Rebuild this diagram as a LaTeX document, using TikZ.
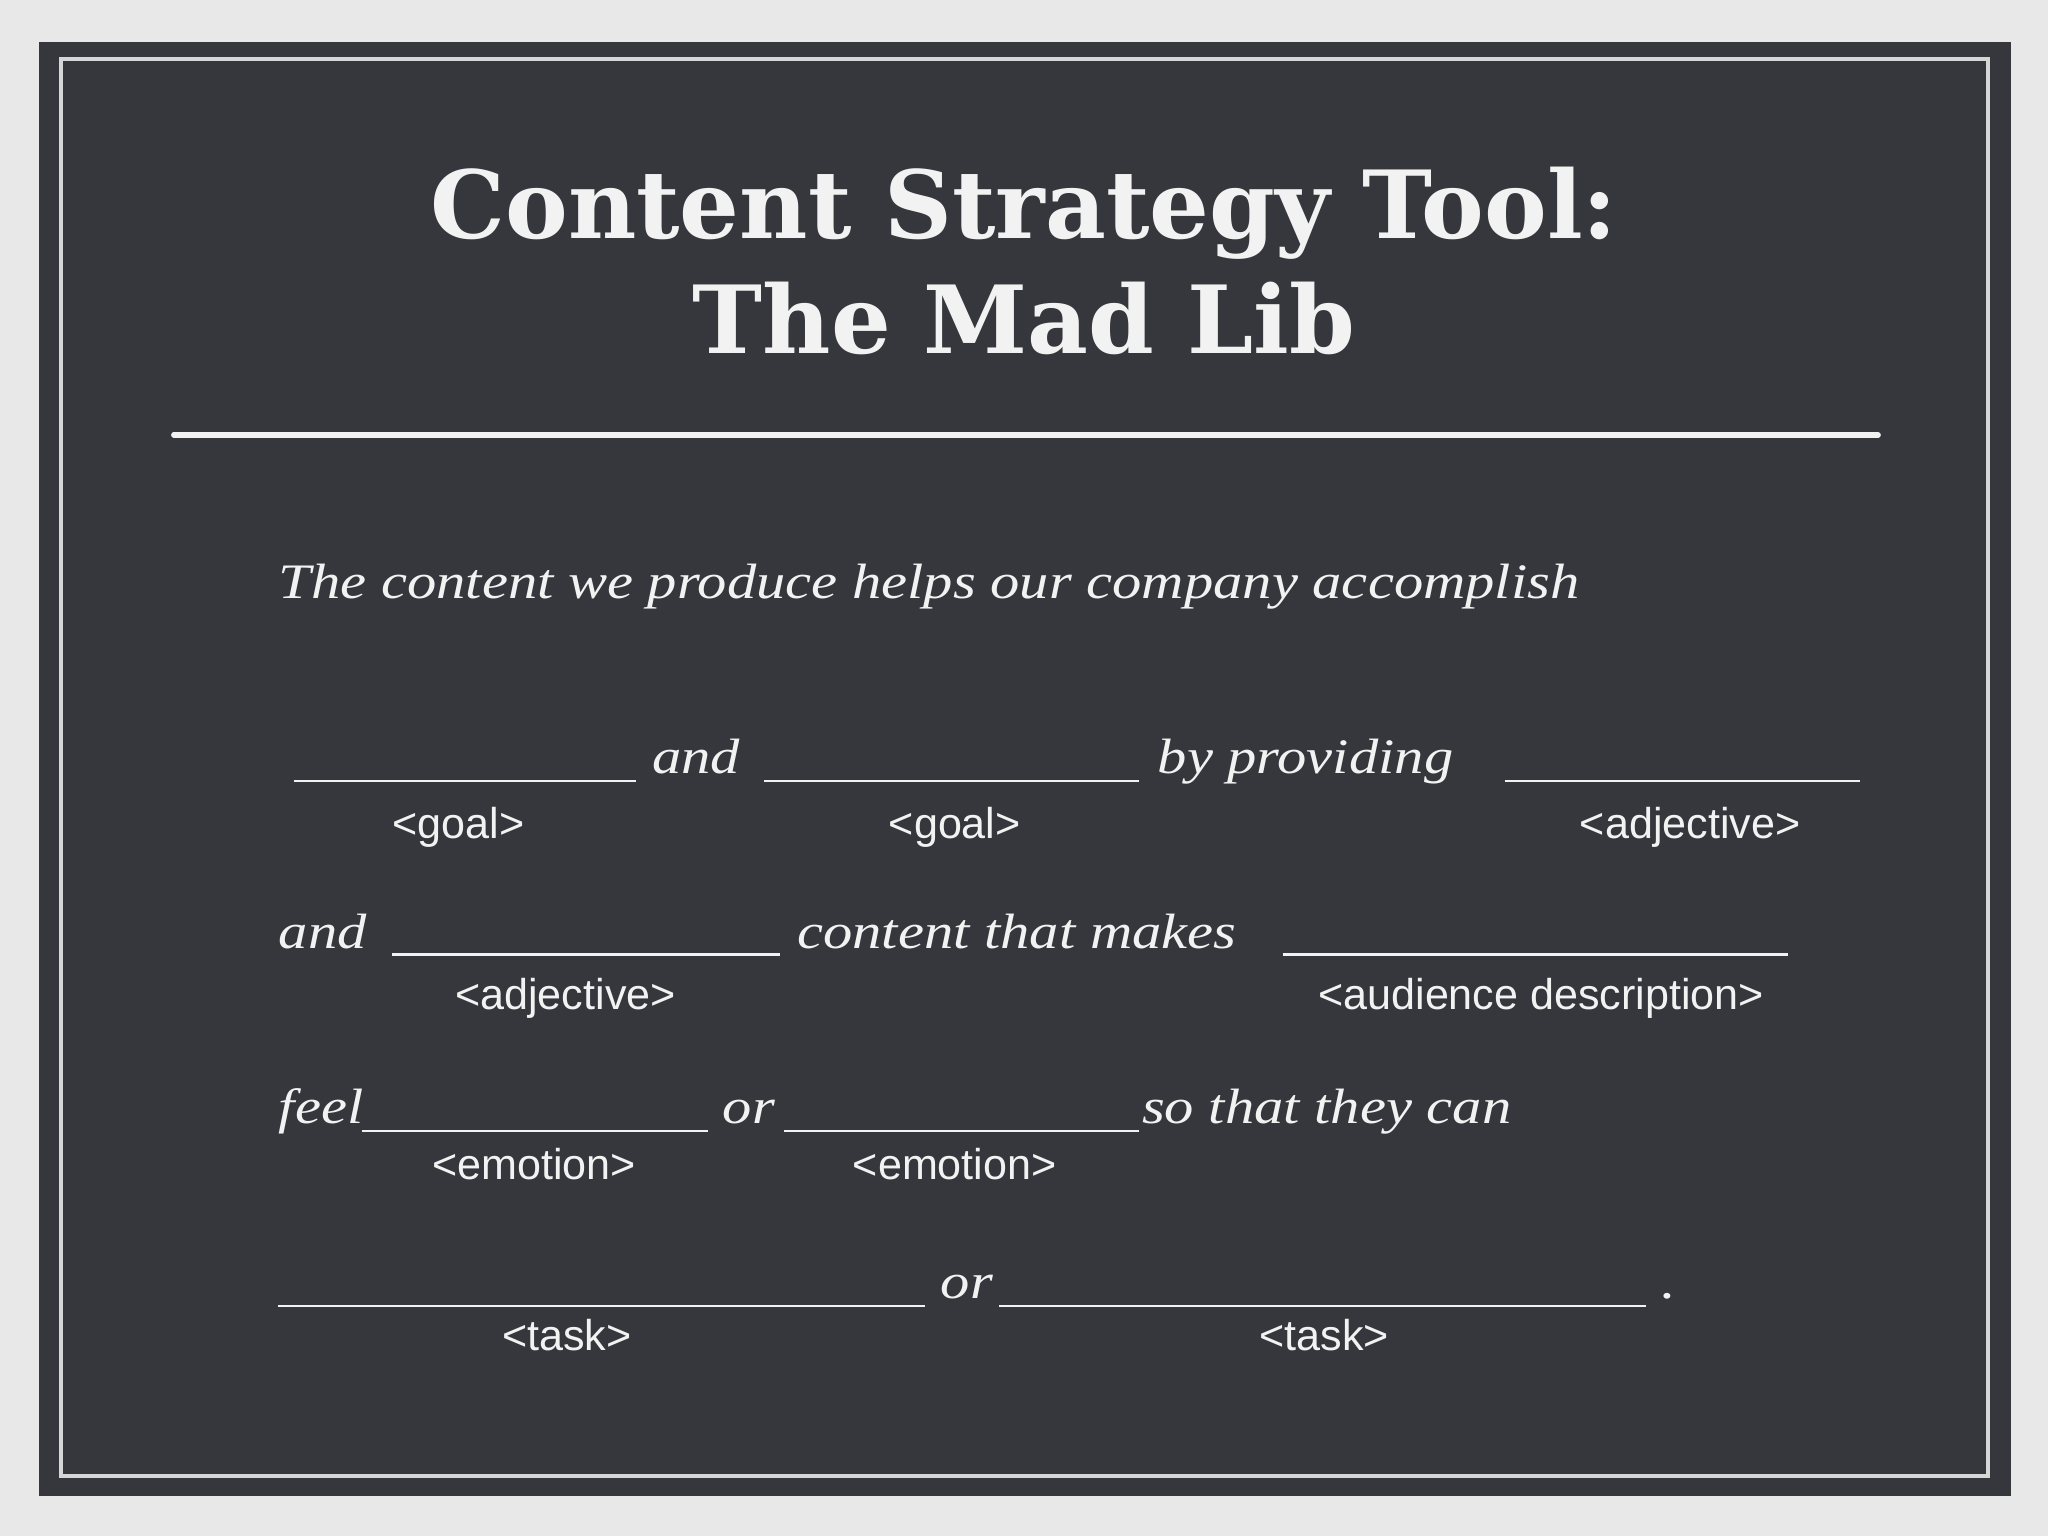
\documentclass[tikz,border=0pt]{standalone}
\usepackage{fontspec}
\setmainfont{Liberation Serif}
\newfontfamily\titlefont{DejaVu Serif}
\newfontfamily\handfont[FakeStretch=1.18]{Liberation Serif}
\newfontfamily\labfont{Liberation Sans}
\definecolor{bg}{HTML}{E8E8E8}
\definecolor{board}{HTML}{36373C}
\definecolor{chalk}{HTML}{F2F2F2}
\tikzset{
 hand/.style={text=chalk,font=\handfont\itshape\fontsize{19}{22}\selectfont,anchor=base west,inner sep=0},
 lab/.style={text=chalk,font=\labfont\fontsize{16.5}{19}\selectfont,anchor=base,inner sep=0},
 blank/.style={draw=chalk,line width=1pt},
}
\begin{document}
\begin{tikzpicture}[x=0.5pt,y=-0.5pt]
\fill[bg] (0,0) rectangle (1568,1176);
\fill[board] (30,32) rectangle (1540,1145);
\draw[chalk!85!board,line width=1.6pt] (47,45) rectangle (1522,1130);
\node[text=chalk,font=\titlefont\bfseries\fontsize{36}{44}\selectfont,align=center] (title) at (784,200) {Content Strategy Tool:\\The Mad Lib};
\coordinate (s1) at (133,333); \coordinate (s2) at (1438,333);
\draw[chalk,line width=2pt,line cap=round] (s1) -- (s2);
\node[hand] (l0) at (213,458) {The content we produce helps our company accomplish};
% row 1
\coordinate (a1) at (225,598); \coordinate (a2) at (487,598); \draw[blank] (a1)--(a2);
\node[hand] (t1) at (499,592) {and};
\coordinate (b1) at (585,598); \coordinate (b2) at (872,598); \draw[blank] (b1)--(b2);
\node[hand] (t2) at (886,592) {by providing};
\coordinate (c1) at (1152,598); \coordinate (c2) at (1424,598); \draw[blank] (c1)--(c2);
\node[lab] (g1) at (351,642) {<goal>};
\node[lab] (g2) at (731,642) {<goal>};
\node[lab] (g3) at (1294,642) {<adjective>};
% row 2
\node[hand] (t3) at (213,726) {and};
\coordinate (d1) at (300,731); \coordinate (d2) at (597,731); \draw[blank] (d1)--(d2);
\node[hand] (t4) at (610,726) {content that makes};
\coordinate (e1) at (982,731); \coordinate (e2) at (1369,731); \draw[blank] (e1)--(e2);
\node[lab] (g4) at (433,773) {<adjective>};
\node[lab] (g5) at (1180,773) {<audience description>};
% row 3
\node[hand] (t5) at (213,860) {feel};
\coordinate (f1) at (277,866); \coordinate (f2) at (542,866); \draw[blank] (f1)--(f2);
\node[hand] (t6) at (553,860) {or};
\coordinate (h1) at (600,866); \coordinate (h2) at (872,866); \draw[blank] (h1)--(h2);
\node[hand] (t7) at (874,860) {so that they can};
\node[lab] (g6) at (409,903) {<emotion>};
\node[lab] (g7) at (731,903) {<emotion>};
% row 4
\coordinate (i1) at (213,1000); \coordinate (i2) at (708,1000); \draw[blank] (i1)--(i2);
\node[hand] (t8) at (720,994) {or};
\coordinate (j1) at (765,1000); \coordinate (j2) at (1260,1000); \draw[blank] (j1)--(j2);
\node[hand] (t9) at (1272,994) {.};
\node[lab] (g8) at (434,1034) {<task>};
\node[lab] (g9) at (1014,1034) {<task>};
\end{tikzpicture}
\end{document}
